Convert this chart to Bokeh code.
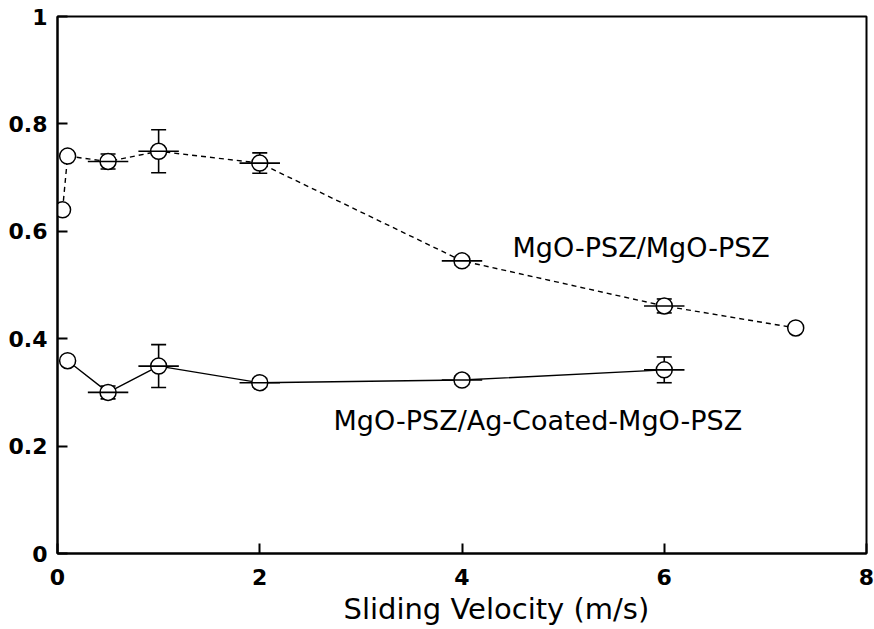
from bokeh.plotting import figure
from bokeh.models import (ColumnDataSource, Whisker, TeeHead, FixedTicker,
                          Label, Title, Range1d)
from bokeh.embed import file_html
from bokeh.resources import INLINE

# ---- data ----
psz_x = [0.05, 0.1, 0.5, 1.0, 2.0, 4.0, 6.0, 7.3]
psz_y = [0.64, 0.74, 0.73, 0.749, 0.727, 0.545, 0.461, 0.42]
psz_yerr = [0, 0, 0.014, 0.04, 0.019, 0.008, 0.013, 0]
psz_xerr = [0, 0, 0.2, 0.2, 0.2, 0.2, 0.2, 0]

ag_x = [0.1, 0.5, 1.0, 2.0, 4.0, 6.0]
ag_y = [0.359, 0.30, 0.349, 0.318, 0.323, 0.342]
ag_yerr = [0, 0.012, 0.04, 0.008, 0.008, 0.024]
ag_xerr = [0, 0.2, 0.2, 0.2, 0.2, 0.2]

x_ticks = [0, 2, 4, 6, 8]
y_ticks = [0, 0.2, 0.4, 0.6, 0.8, 1]
y_tick_labels = ["0", "0.2", "0.4", "0.6", "0.8", "1"]

label_psz = "MgO-PSZ/MgO-PSZ"
label_ag = "MgO-PSZ/Ag-Coated-MgO-PSZ"
x_title = "Sliding Velocity (m/s)"

FONT = "DejaVu Sans"

p = figure(width=874, height=629, x_range=Range1d(0, 8), y_range=Range1d(0, 1),
           output_backend="svg", toolbar_location=None,
           min_border_left=57, min_border_right=8, min_border_top=16,
           min_border_bottom=76)
p.grid.visible = False
p.outline_line_color = "black"
p.outline_line_width = 2
p.background_fill_color = "white"
p.border_fill_color = "white"

for ax in (p.xaxis[0], p.yaxis[0]):
    ax.axis_line_width = 2
    ax.axis_line_color = "black"
    ax.major_tick_in = 10
    ax.major_tick_out = 0
    ax.major_tick_line_width = 2
    ax.minor_tick_line_color = None
    ax.major_label_text_font = FONT
    ax.major_label_text_font_style = "bold"
    ax.major_label_text_font_size = "22px"
    ax.major_label_text_color = "black"

p.xaxis.ticker = FixedTicker(ticks=x_ticks)
p.yaxis.ticker = FixedTicker(ticks=y_ticks)
p.yaxis.major_label_overrides = {t: s for t, s in zip(y_ticks, y_tick_labels)}
p.xaxis.major_label_overrides = {t: str(t) for t in x_ticks}
p.yaxis.major_label_standoff = 10
p.xaxis.major_label_standoff = 15


def draw_series(xs, ys, xerr, yerr, dash):
    p.line(xs, ys, line_color="black", line_width=1.4, line_dash=dash)
    p.scatter(xs, ys, marker="circle", size=16, fill_color="white",
              line_color="black", line_width=1.5)
    ex = [x for x, e in zip(xs, yerr) if e > 0]
    ey = [y for y, e in zip(ys, yerr) if e > 0]
    eyv = [e for e in yerr if e > 0]
    exv = [e for e, ye in zip(xerr, yerr) if ye > 0]
    src = ColumnDataSource(dict(
        x=ex, y=ey,
        lo=[y - e for y, e in zip(ey, eyv)], hi=[y + e for y, e in zip(ey, eyv)],
        x0=[x - e for x, e in zip(ex, exv)], x1=[x + e for x, e in zip(ex, exv)]))
    p.segment(x0="x0", y0="y", x1="x1", y1="y", source=src,
              line_color="black", line_width=1.6)
    w = Whisker(base="x", lower="lo", upper="hi", dimension="height", source=src,
                line_color="black", line_width=1.6,
                upper_head=TeeHead(size=15, line_width=1.6, line_color="black"),
                lower_head=TeeHead(size=15, line_width=1.6, line_color="black"))
    p.add_layout(w)


draw_series(psz_x, psz_y, psz_xerr, psz_yerr, "5 4")
draw_series(ag_x, ag_y, ag_xerr, ag_yerr, "solid")

p.add_layout(Label(x=4.50, y=0.570, text=label_psz, text_font=FONT,
                   text_font_size="27px", text_baseline="alphabetic",
                   text_color="black"))
p.add_layout(Label(x=2.73, y=0.248, text=label_ag, text_font=FONT,
                   text_font_size="27px", text_baseline="alphabetic",
                   text_color="black"))

# small spacer panel, then the x-axis title (off-centre as in the reference)
p.add_layout(Title(text=" ", standoff=8, text_font_size="1px"), "below")
p.add_layout(Title(text=x_title, align="left", offset=286, standoff=-17,
                   text_font=FONT, text_font_size="29px",
                   text_font_style="normal", text_color="black"), "below")

open("out.html", "w").write(file_html(p, INLINE))
